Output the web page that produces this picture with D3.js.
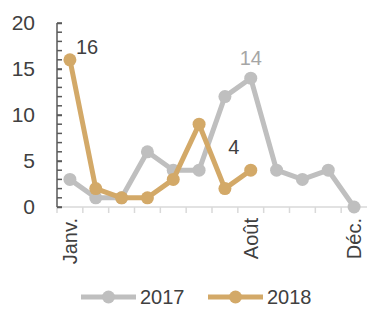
<!DOCTYPE html>
<html>
<head>
<meta charset="utf-8">
<script src="https://cdn.jsdelivr.net/npm/d3@7"></script>
<style>
	body { margin: 0; background: #fff; }
	svg { display: block; font-family: "Liberation Sans", Arial, sans-serif; }
</style>
</head>
<body>
<script>
	// DATA //

	var months = [ 'Janv.', 'Févr.', 'Mars', 'Avr.', 'Mai', 'Juin', 'Juil.', 'Août', 'Sept.', 'Oct.', 'Nov.', 'Déc.' ],
		shownMonths = [ 'Janv.', 'Août', 'Déc.' ],
		values2017 = [ 3, 1, 1, 6, 4, 4, 12, 14, 4, 3, 4, 0 ],
		values2018 = [ 16, 2, 1, 1, 3, 9, 2, 4 ],
		yTicks = [ 0, 5, 10, 15, 20 ];

	var w = 369,
		h = 309,
		gray = '#bfbfbf',
		gold = '#d3a968',
		dark = '#404040';

	var svg = d3.select( 'body' ).append( 'svg' )
		.attr( 'width', w )
		.attr( 'height', h );

	// Scales:
	var x = d3.scaleBand()
		.domain( months )
		.range( [ 57, 367 ] );

	var y = d3.scaleLinear()
		.domain( [ 0, 20 ] )
		.range( [ 207, 23 ] );

	function cx( i ) {
		return x( months[ i ] ) + x.bandwidth()/2;
	}

	// X axis: baseline and tick marks between categories
	var xAxis = svg.append( 'g' )
		.attr( 'transform', 'translate(0,' + y( 0 ) + ')' );
	xAxis.append( 'line' )
		.attr( 'x1', x.range()[ 0 ] ).attr( 'x2', x.range()[ 1 ] )
		.attr( 'stroke', '#d9d9d9' ).attr( 'stroke-width', 1.5 );
	xAxis.selectAll( 'line.tick' )
		.data( months )
	  .enter().append( 'line' )
		.attr( 'class', 'tick' )
		.attr( 'x1', function ( d ) { return x( d ); } )
		.attr( 'x2', function ( d ) { return x( d ); } )
		.attr( 'y1', 0 ).attr( 'y2', 6 )
		.attr( 'stroke', '#d9d9d9' ).attr( 'stroke-width', 1.5 );
	xAxis.selectAll( 'text' )
		.data( shownMonths )
	  .enter().append( 'text' )
		.attr( 'transform', function ( d ) {
			return 'translate(' + ( x( d ) + x.bandwidth()/2 + 7 ) + ',11) rotate(-90)';
		})
		.attr( 'text-anchor', 'end' )
		.attr( 'font-size', 20 )
		.attr( 'fill', dark )
		.text( function ( d ) { return d; } );

	// Y axis with minor ticks:
	var yAxis = svg.append( 'g' )
		.attr( 'transform', 'translate(' + x.range()[ 0 ] + ',0)' )
		.call( d3.axisLeft( y ).tickValues( yTicks ).tickSize( 8 ).tickPadding( 14 ) );
	yAxis.select( '.domain' ).remove();
	yAxis.selectAll( '.tick line' )
		.attr( 'x2', 5 )
		.attr( 'stroke', '#595959' ).attr( 'stroke-width', 1.5 );
	yAxis.selectAll( '.tick text' )
		.attr( 'font-size', 21 )
		.attr( 'font-family', '"Liberation Sans", Arial, sans-serif' )
		.attr( 'fill', dark );
	yAxis.append( 'line' )
		.attr( 'y1', y( 0 ) ).attr( 'y2', y( 20 ) )
		.attr( 'stroke', '#595959' ).attr( 'stroke-width', 1.5 );
	yAxis.selectAll( 'line.minor' )
		.data( d3.range( 0, 21 ) )
	  .enter().append( 'line' )
		.attr( 'class', 'minor' )
		.attr( 'x1', 0 ).attr( 'x2', 5 )
		.attr( 'y1', function ( d ) { return y( d ); } )
		.attr( 'y2', function ( d ) { return y( d ); } )
		.attr( 'stroke', '#595959' ).attr( 'stroke-width', 1.5 );

	// Series:
	var line = d3.line()
		.x( function ( d, i ) { return cx( i ); } )
		.y( function ( d ) { return y( d ); } );

	function drawSeries( values, color ) {
		var g = svg.append( 'g' );
		g.append( 'path' )
			.attr( 'd', line( values ) )
			.attr( 'fill', 'none' )
			.attr( 'stroke', color )
			.attr( 'stroke-width', 5 )
			.attr( 'stroke-linejoin', 'round' );
		g.selectAll( 'circle' )
			.data( values )
		  .enter().append( 'circle' )
			.attr( 'cx', function ( d, i ) { return cx( i ); } )
			.attr( 'cy', function ( d ) { return y( d ); } )
			.attr( 'r', 6.5 )
			.attr( 'fill', color );
	}
	drawSeries( values2017, gray );
	drawSeries( values2018, gold );

	// Data labels:
	svg.append( 'text' )
		.attr( 'x', cx( 0 ) + 6 ).attr( 'y', y( values2018[ 0 ] ) - 6 )
		.attr( 'font-size', 20 ).attr( 'fill', dark )
		.text( values2018[ 0 ] );
	svg.append( 'text' )
		.attr( 'x', cx( 7 ) ).attr( 'y', y( values2017[ 7 ] ) - 13 )
		.attr( 'text-anchor', 'middle' )
		.attr( 'font-size', 20 ).attr( 'fill', '#a6a6a6' )
		.text( values2017[ 7 ] );
	svg.append( 'text' )
		.attr( 'x', cx( 7 ) - 17 ).attr( 'y', y( values2018[ 7 ] ) - 16 )
		.attr( 'text-anchor', 'middle' )
		.attr( 'font-size', 20 ).attr( 'fill', dark )
		.text( values2018[ 7 ] );

	// Legend:
	var legend = svg.append( 'g' )
		.attr( 'transform', 'translate(0,297)' );
	[ [ '2017', gray, 81 ], [ '2018', gold, 208 ] ].forEach( function ( d ) {
		legend.append( 'line' )
			.attr( 'x1', d[ 2 ] ).attr( 'x2', d[ 2 ] + 55 )
			.attr( 'stroke', d[ 1 ] ).attr( 'stroke-width', 5 );
		legend.append( 'circle' )
			.attr( 'cx', d[ 2 ] + 27.5 ).attr( 'r', 6.5 )
			.attr( 'fill', d[ 1 ] );
		legend.append( 'text' )
			.attr( 'x', d[ 2 ] + 59 ).attr( 'y', 7 )
			.attr( 'font-size', 20 ).attr( 'fill', dark )
			.text( d[ 0 ] );
	});
</script>
</body>
</html>
